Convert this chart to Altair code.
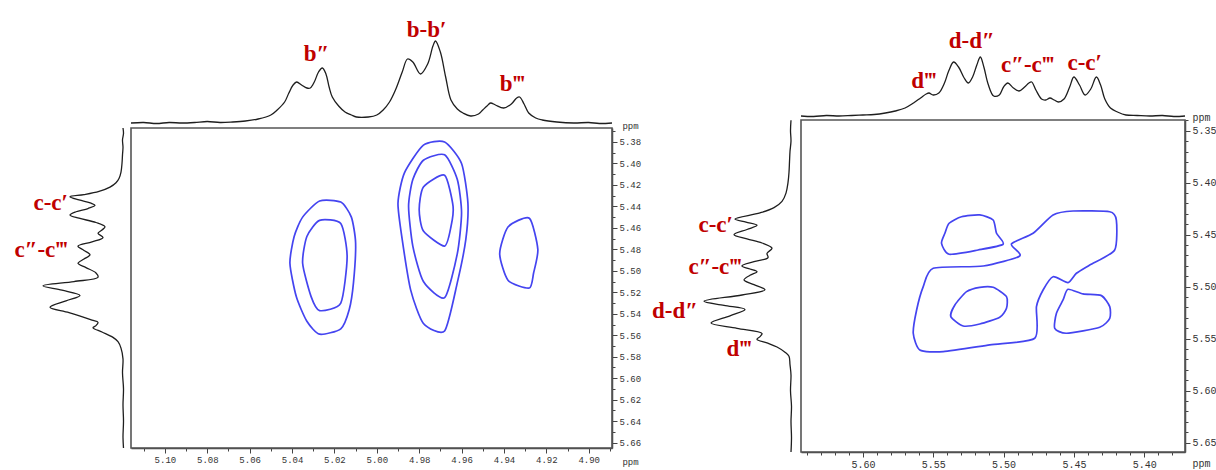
import altair as alt
import pandas as pd

# ---------------------------------------------------------------
# Left spectrum: 2D contour map with its F2 (top) and F1 (side)
# projections.  All values in ppm; projection heights in a.u.
# ---------------------------------------------------------------
L_F2_LIMITS = [5.116, 4.889]
L_F1_LIMITS = [5.367, 5.665]
L_F2_MAJOR = [5.10, 5.08, 5.06, 5.04, 5.02, 5.00, 4.98, 4.96, 4.94, 4.92, 4.90]
L_F1_MAJOR = [5.38, 5.40, 5.42, 5.44, 5.46, 5.48, 5.50, 5.52, 5.54, 5.56,
              5.58, 5.60, 5.62, 5.64, 5.66]
L_F2_MINOR = [round(5.11 - 0.01 * i, 2) for i in range(23)]
L_F1_MINOR = [round(5.37 + 0.01 * i, 2) for i in range(30)]

L_TOP_PPM = [5.116, 5.110, 5.104, 5.098, 5.092, 5.086, 5.080, 5.074, 5.068, 5.062,
             5.056, 5.050, 5.047, 5.0435, 5.0415, 5.0395, 5.0378, 5.0355, 5.0330, 5.0314,
             5.0295, 5.0275, 5.0257, 5.0240, 5.0225, 5.021, 5.018, 5.015, 5.012, 5.0096,
             5.004, 5.000, 4.997, 4.994, 4.9912, 4.988, 4.9855, 4.983, 4.9794, 4.976,
             4.9735, 4.9723, 4.970, 4.9675, 4.965, 4.962, 4.9593, 4.9557, 4.952, 4.950,
             4.948, 4.9463, 4.944, 4.9401, 4.9365, 4.934, 4.9326, 4.9305, 4.9283, 4.925,
             4.9219, 4.915, 4.907, 4.900, 4.895, 4.889]
L_TOP_INT = [1, 1.5, 0.5, 1.5, 1, 1.5, 2.5, 1.5, 2, 3,
             5, 9, 14, 22, 31, 39, 42, 39, 36, 36,
             42, 52, 56, 50, 37, 27, 18, 12, 9, 7,
             7, 9, 14, 22, 34, 52, 65, 62, 50, 60,
             78, 83, 72, 47, 24, 15, 11, 8, 10, 14,
             18, 21, 19, 16, 20, 26, 27, 20, 11, 6,
             4, 2, 1, 1.5, 0.5, 1]

L_SIDE_PPM = [5.367, 5.372, 5.378, 5.385, 5.392, 5.400, 5.408, 5.414, 5.418, 5.422,
              5.426, 5.429, 5.431, 5.434, 5.437, 5.439, 5.442, 5.445, 5.448, 5.451,
              5.455, 5.459, 5.462, 5.465, 5.469, 5.473, 5.477, 5.481, 5.485, 5.489,
              5.493, 5.497, 5.502, 5.506, 5.510, 5.514, 5.518, 5.523, 5.528, 5.534,
              5.539, 5.546, 5.548, 5.551, 5.553, 5.557, 5.562, 5.566, 5.572, 5.582,
              5.595, 5.610, 5.625, 5.640, 5.655, 5.665]
L_SIDE_INT = [1, 0.5, 1.5, 1, 1.5, 2, 3, 5, 8, 14,
              25, 40, 54, 45, 33, 29, 36, 48, 54, 45,
              28, 19, 22, 26, 21, 32, 46, 40, 34, 40,
              46, 38, 28, 26, 50, 81, 62, 44, 58, 74,
              55, 32, 26, 28, 31, 22, 11, 6, 3, 1,
              1.5, 0.5, 1, 0.5, 1, 0.5]

# contour polygons as (F2 ppm, F1 ppm) vertices
L_CONTOURS = [
    [(5.027, 5.435), (5.017, 5.436), (5.012, 5.450), (5.010, 5.474), (5.011, 5.511),
     (5.013, 5.536), (5.017, 5.554), (5.027, 5.559), (5.033, 5.547), (5.038, 5.524),
     (5.041, 5.493), (5.039, 5.468), (5.035, 5.450)],
    [(5.027, 5.453), (5.017, 5.456), (5.014, 5.487), (5.017, 5.530), (5.027, 5.537),
     (5.031, 5.524), (5.035, 5.493), (5.033, 5.468)],
    [(4.978, 5.383), (4.968, 5.380), (4.960, 5.400), (4.957, 5.437), (4.958, 5.471),
     (4.962, 5.511), (4.968, 5.556), (4.978, 5.549), (4.984, 5.518), (4.988, 5.471),
     (4.990, 5.437), (4.987, 5.409)],
    [(4.978, 5.397), (4.968, 5.392), (4.962, 5.415), (4.960, 5.446), (4.962, 5.484),
     (4.968, 5.525), (4.978, 5.510), (4.983, 5.477), (4.985, 5.440), (4.983, 5.415)],
    [(4.978, 5.422), (4.968, 5.411), (4.964, 5.440), (4.965, 5.459), (4.968, 5.477),
     (4.978, 5.463), (4.980, 5.443)],
    [(4.938, 5.459), (4.928, 5.451), (4.924, 5.480), (4.926, 5.502), (4.928, 5.516),
     (4.938, 5.509), (4.942, 5.484)],
]

L_TOP_LABELS = ["b″", "b-b′", "b‴"]
L_TOP_LABEL_PPM = [5.0285, 4.9765, 4.936]
L_TOP_LABEL_INT = [63, 87, 33]
L_SIDE_LABELS = ["c-c′", "c″-c‴"]
L_SIDE_LABEL_PPM = [5.4433, 5.487]
L_SIDE_LABEL_INT = [56, 56]

# ---------------------------------------------------------------
# Right spectrum
# ---------------------------------------------------------------
R_F2_LIMITS = [5.644, 5.371]
R_F1_LIMITS = [5.3397, 5.659]
R_F2_MAJOR = [5.60, 5.55, 5.50, 5.45, 5.40]
R_F1_MAJOR = [5.35, 5.40, 5.45, 5.50, 5.55, 5.60, 5.65]
R_F2_MINOR = [round(5.64 - 0.01 * i, 2) for i in range(27)]
R_F1_MINOR = [round(5.34 + 0.01 * i, 2) for i in range(32)]

R_TOP_PPM = [5.644, 5.635, 5.626, 5.617, 5.608, 5.600, 5.592, 5.584, 5.577, 5.570,
             5.564, 5.559, 5.555, 5.553, 5.550, 5.546, 5.542, 5.539, 5.5355, 5.532,
             5.528, 5.525, 5.522, 5.519, 5.5165, 5.514, 5.511, 5.507, 5.503, 5.500,
             5.497, 5.493, 5.489, 5.485, 5.482, 5.480, 5.477, 5.473, 5.470, 5.467,
             5.464, 5.461, 5.457, 5.453, 5.450, 5.446, 5.442, 5.438, 5.434, 5.431,
             5.428, 5.424, 5.419, 5.413, 5.405, 5.396, 5.387, 5.379, 5.371]
R_TOP_INT = [1, 0.5, 1.5, 1, 1.5, 2, 2.5, 4, 6, 9,
             14, 19, 23, 24, 22, 24, 34, 46, 55, 50,
             39, 34, 40, 52, 60, 50, 33, 21, 22, 30,
             34, 29, 26, 30, 34, 35, 27, 18, 17, 19,
             17, 15, 18, 30, 40, 32, 22, 28, 40, 32,
             18, 9, 5, 2, 1.5, 1, 1.5, 0.5, 1]

R_SIDE_PPM = [5.340, 5.350, 5.360, 5.370, 5.380, 5.390, 5.400, 5.410, 5.418, 5.424,
              5.429, 5.435, 5.438, 5.441, 5.445, 5.450, 5.454, 5.458, 5.463, 5.468,
              5.472, 5.476, 5.480, 5.483, 5.4856, 5.489, 5.4935, 5.498, 5.503, 5.508,
              5.514, 5.518, 5.522, 5.528, 5.535, 5.540, 5.545, 5.548, 5.5506, 5.554,
              5.558, 5.563, 5.567, 5.575, 5.585, 5.600, 5.615, 5.630, 5.645, 5.659]
R_SIDE_INT = [1, 1.5, 1, 2, 2.5, 3, 4, 6, 10, 18,
              32, 57, 46, 35, 45, 58, 45, 30, 20, 25,
              24, 38, 50, 42, 35, 42, 48, 38, 27, 50,
              88, 68, 47, 62, 81, 55, 30, 32, 35, 25,
              15, 7, 3, 2, 1, 1.5, 0.5, 1, 0.5, 1]

R_CONTOURS = [
    [(5.5387, 5.4390), (5.5299, 5.4327), (5.5169, 5.4310), (5.5074, 5.4359),
     (5.5050, 5.4486), (5.5003, 5.4592), (5.5181, 5.4647), (5.5387, 5.4688),
     (5.5441, 5.4583), (5.5417, 5.4486)],
    [(5.5500, 5.4823), (5.5145, 5.4801), (5.4885, 5.4705), (5.4944, 5.4589),
     (5.4790, 5.4486), (5.4648, 5.4310), (5.4506, 5.4272), (5.4245, 5.4279),
     (5.4198, 5.4359), (5.4210, 5.4647), (5.4387, 5.4791), (5.4482, 5.4871),
     (5.4542, 5.4961), (5.4648, 5.4904), (5.4719, 5.5032), (5.4766, 5.5192),
     (5.4778, 5.5496), (5.5098, 5.5560), (5.5429, 5.5625), (5.5595, 5.5609),
     (5.5642, 5.5448), (5.5618, 5.5224), (5.5571, 5.5000)],
    [(5.5263, 5.5048), (5.5169, 5.5006), (5.5074, 5.5006), (5.4979, 5.5096),
     (5.4979, 5.5208), (5.5027, 5.5294), (5.5169, 5.5359), (5.5287, 5.5378),
     (5.5375, 5.5288), (5.5346, 5.5176)],
    [(5.4542, 5.5025), (5.4435, 5.5070), (5.4304, 5.5086), (5.4245, 5.5192),
     (5.4245, 5.5304), (5.4316, 5.5390), (5.4553, 5.5448), (5.4636, 5.5400),
     (5.4624, 5.5256), (5.4577, 5.5128)],
]

R_TOP_LABELS = ["d‴", "d-d″", "c″-c‴", "c-c′"]
R_TOP_LABEL_PPM = [5.5566, 5.5226, 5.4828, 5.4423]
R_TOP_LABEL_INT = [29, 69, 45, 47]
R_SIDE_LABELS = ["c-c′", "c″-c‴", "d-d″", "d‴"]
R_SIDE_LABEL_PPM = [5.4474, 5.4878, 5.5301, 5.5666]
R_SIDE_LABEL_INT = [59, 50, 94, 40]

# ---------------------------------------------------------------
# page geometry (pixels) and styling
# ---------------------------------------------------------------
PAGE_W, PAGE_H = 1216, 470
CONTOUR_BLUE = "#4444f0"
TRACE = "#1e1e1e"
LABEL_RED = "#c00000"
AXIS_GREY = "#444444"
TICK_FONT = "Liberation Mono"
LABEL_FONT = "Liberation Serif"

LEFT = dict(
    f2=L_F2_LIMITS, f1=L_F1_LIMITS, xr=[131, 612], yr=[128, 448],
    top_r=[124, 24], side_r=[124, 24],
    f2_major=L_F2_MAJOR, f1_major=L_F1_MAJOR, f2_minor=L_F2_MINOR, f1_minor=L_F1_MINOR,
    top=(L_TOP_PPM, L_TOP_INT), side=(L_SIDE_PPM, L_SIDE_INT), contours=L_CONTOURS,
    top_labels=(L_TOP_LABELS, L_TOP_LABEL_PPM, L_TOP_LABEL_INT),
    side_labels=(L_SIDE_LABELS, L_SIDE_LABEL_PPM, L_SIDE_LABEL_INT),
    tick_font_size=9, fmt=".2f", x_title=(630, 16), y_title=(18, 128),
)
RIGHT = dict(
    f2=R_F2_LIMITS, f1=R_F1_LIMITS, xr=[801, 1185], yr=[120, 452],
    top_r=[117, 17], side_r=[792, 692],
    f2_major=R_F2_MAJOR, f1_major=R_F1_MAJOR, f2_minor=R_F2_MINOR, f1_minor=R_F1_MINOR,
    top=(R_TOP_PPM, R_TOP_INT), side=(R_SIDE_PPM, R_SIDE_INT), contours=R_CONTOURS,
    top_labels=(R_TOP_LABELS, R_TOP_LABEL_PPM, R_TOP_LABEL_INT),
    side_labels=(R_SIDE_LABELS, R_SIDE_LABEL_PPM, R_SIDE_LABEL_INT),
    tick_font_size=10, fmt=".2f", x_title=(1201, 14), y_title=(16, 120),
)


def trace_df(ppm, inten):
    return pd.DataFrame({"ppm": ppm, "inten": inten, "k": list(range(len(ppm)))})


def contour_df(polys):
    # closed curves: the renderer joins the last vertex back to the first
    rows = []
    for cid, poly in enumerate(polys):
        for k, (f2, f1) in enumerate(poly):
            rows.append({"c": cid, "k": k, "f2": f2, "f1": f1})
    return pd.DataFrame(rows)


def panel(p):
    xs = alt.Scale(domain=p["f2"], range=p["xr"], nice=False, zero=False)
    ys = alt.Scale(domain=p["f1"], range=p["yr"], nice=False, zero=False)
    top_s = alt.Scale(domain=[0, 100], range=p["top_r"], nice=False, zero=False)
    side_s = alt.Scale(domain=[0, 100], range=p["side_r"], nice=False, zero=False)
    x_off = p["yr"][1] - PAGE_H
    y_off = p["xr"][1] - PAGE_W

    common = dict(domainColor=AXIS_GREY, tickColor=AXIS_GREY, grid=False,
                  labelFont=TICK_FONT, labelColor="#333333",
                  labelFontSize=p["tick_font_size"], labelFlush=False,
                  labelOverlap=False, titleFont=TICK_FONT, titleFontWeight="normal",
                  titleFontSize=p["tick_font_size"], titleColor="#333333",
                  titleAngle=0, titleAlign="center", titleBaseline="alphabetic")

    x_major = alt.Axis(orient="bottom", offset=x_off, values=p["f2_major"],
                       format=p["fmt"], tickSize=5, labelPadding=2, domainWidth=1.5,
                       title="ppm", titleX=p["x_title"][0], titleY=p["x_title"][1],
                       **common)
    y_major = alt.Axis(orient="right", offset=y_off, values=p["f1_major"],
                       format=p["fmt"], tickSize=5, labelPadding=2, domainWidth=1.5,
                       title="ppm", titleX=p["y_title"][0], titleY=p["y_title"][1],
                       **common)
    x_minor = alt.Axis(orient="bottom", offset=x_off, values=p["f2_minor"],
                       tickSize=3, labels=False, domain=False, tickColor=AXIS_GREY,
                       grid=False, title=None)
    y_minor = alt.Axis(orient="right", offset=y_off, values=p["f1_minor"],
                       tickSize=3, labels=False, domain=False, tickColor=AXIS_GREY,
                       grid=False, title=None)

    frame_df = pd.DataFrame({"a": [p["f2"][0]], "b": [p["f2"][1]],
                             "c": [p["f1"][0]], "d": [p["f1"][1]]})
    frame = alt.Chart(frame_df).mark_rect(
        fillOpacity=0, stroke="#555555", strokeWidth=1.6
    ).encode(
        x=alt.X("a:Q", scale=xs, axis=x_minor), x2="b:Q",
        y=alt.Y("c:Q", scale=ys, axis=y_minor), y2="d:Q",
    )

    contours = alt.Chart(contour_df(p["contours"])).mark_line(
        color=CONTOUR_BLUE, strokeWidth=1.7, strokeJoin="round",
        interpolate="cardinal-closed", tension=0.35
    ).encode(
        x=alt.X("f2:Q", scale=xs, axis=x_major),
        y=alt.Y("f1:Q", scale=ys, axis=y_major),
        detail="c:N", order="k:Q",
    )

    top = alt.Chart(trace_df(*p["top"])).mark_line(
        color=TRACE, strokeWidth=1.3, interpolate="catmull-rom"
    ).encode(
        x=alt.X("ppm:Q", scale=xs, axis=None),
        y=alt.Y("inten:Q", scale=top_s, axis=None),
        order="k:Q",
    )

    side = alt.Chart(trace_df(*p["side"])).mark_line(
        color=TRACE, strokeWidth=1.3, interpolate="catmull-rom"
    ).encode(
        x=alt.X("inten:Q", scale=side_s, axis=None),
        y=alt.Y("ppm:Q", scale=ys, axis=None),
        order="k:Q",
    )

    tl, tp, ti = p["top_labels"]
    top_text = alt.Chart(pd.DataFrame({"t": tl, "ppm": tp, "inten": ti})).mark_text(
        align="center", baseline="alphabetic", font=LABEL_FONT, fontWeight="bold",
        fontSize=23, color=LABEL_RED
    ).encode(
        x=alt.X("ppm:Q", scale=xs, axis=None),
        y=alt.Y("inten:Q", scale=top_s, axis=None),
        text="t:N",
    )

    sl, sp, si = p["side_labels"]
    side_text = alt.Chart(pd.DataFrame({"t": sl, "ppm": sp, "inten": si})).mark_text(
        align="right", baseline="alphabetic", font=LABEL_FONT, fontWeight="bold",
        fontSize=23, color=LABEL_RED
    ).encode(
        x=alt.X("inten:Q", scale=side_s, axis=None),
        y=alt.Y("ppm:Q", scale=ys, axis=None),
        text="t:N",
    )

    return [frame, contours, top, side, top_text, side_text]


chart = alt.layer(*panel(LEFT), *panel(RIGHT)).resolve_scale(
    x="independent", y="independent"
).properties(
    width=PAGE_W, height=PAGE_H, padding=0,
    autosize=alt.AutoSizeParams(type="none"), background="white",
).configure_view(stroke=None)

chart.save("out.html", embed_options={"renderer": "svg", "actions": False})
